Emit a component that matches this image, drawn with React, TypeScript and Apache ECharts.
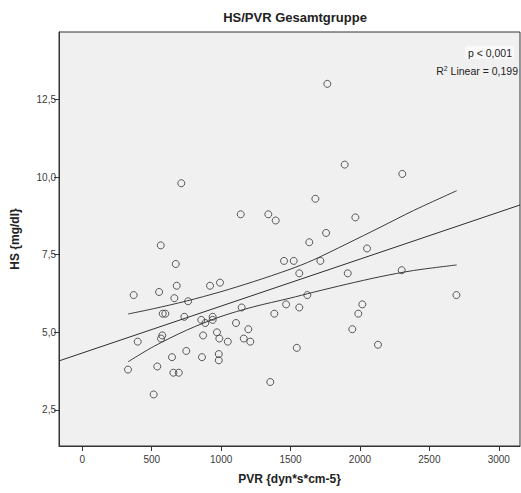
import React, { useEffect, useRef } from "react";
import * as echarts from "echarts";

const title = "HS/PVR Gesamtgruppe";
const xName = "PVR {dyn*s*cm-5}";
const yName = "HS {mg/dl}";
const xTicks = [0, 500, 1000, 1500, 2000, 2500, 3000];
const yTicks = [2.5, 5.0, 7.5, 10.0, 12.5];

const pvr = [
  713, 1141, 1340, 1393, 1765, 1890, 2305, 1679, 1967, 1756, 1635, 565, 673, 1453,
  680, 920, 992, 370, 553, 663, 762, 579, 598, 735, 857, 886, 939, 939, 1148, 1468,
  1383, 1107, 1196, 576, 567, 399, 870, 970, 987, 1048, 1163, 1210, 749, 646, 862,
  983, 983, 329, 540, 656, 695, 1354, 514, 2051, 1523, 1715, 1563, 1912, 2301, 1621,
  1563, 2017, 1988, 2695, 1945, 1545, 2130,
];
const hs = [
  9.8, 8.8, 8.8, 8.6, 13.0, 10.4, 10.1, 9.3, 8.7, 8.2, 7.9, 7.8, 7.2, 7.3,
  6.5, 6.5, 6.6, 6.2, 6.3, 6.1, 6.0, 5.6, 5.6, 5.5, 5.4, 5.3, 5.5, 5.4, 5.8, 5.9,
  5.6, 5.3, 5.1, 4.9, 4.8, 4.7, 4.9, 5.0, 4.8, 4.7, 4.8, 4.7, 4.4, 4.2, 4.2,
  4.3, 4.1, 3.8, 3.9, 3.7, 3.7, 3.4, 3.0, 7.7, 7.3, 7.3, 6.9, 6.9, 7.0, 6.2,
  5.8, 5.9, 5.6, 6.2, 5.1, 4.5, 4.6,
];

const fitX = [-168, 3153];
const fitY = [4.08, 9.1];

const bandX = [329, 512, 752, 992, 1232, 1496, 1664, 1905, 2145, 2385, 2697];
const upperY = [5.59, 5.76, 6.01, 6.3, 6.63, 7.03, 7.33, 7.85, 8.38, 8.92, 9.56];
const lowerY = [4.05, 4.54, 5.07, 5.5, 5.82, 6.1, 6.29, 6.55, 6.79, 6.99, 7.17];

const X_MIN = -168;
const X_MAX = 3153;
const Y_MIN = 1.34;
const Y_MAX = 14.67;

const FONT = "'Liberation Sans', 'DejaVu Sans', sans-serif";
const INK = "#3a3a3a";

export default function App() {
  const ref = useRef<HTMLDivElement>(null);
  useEffect(() => {
    if (!ref.current) return;
    const chart = echarts.init(ref.current, null, { renderer: "svg" });
    const zip = (a: number[], b: number[]) => a.map((v, i) => [v, b[i]]);
    chart.setOption({
      animation: false,
      backgroundColor: "#ffffff",
      title: {
        text: title,
        left: 290,
        textAlign: "center",
        top: 6,
        textStyle: { fontFamily: FONT, fontSize: 13, fontWeight: "bold", color: "#222" },
      },
      grid: {
        left: 59,
        top: 32,
        right: 1,
        bottom: 47,
        show: true,
        backgroundColor: "#f0f0f0",
        borderColor: "#333",
        borderWidth: 1,
      },
      xAxis: {
        type: "value",
        min: X_MIN,
        max: X_MAX,
        name: xName,
        nameLocation: "middle",
        nameGap: 27,
        nameTextStyle: { fontFamily: FONT, fontSize: 12, fontWeight: "bold", color: "#222" },
        splitLine: { show: false },
        axisLine: { show: true, onZero: false, lineStyle: { color: "#333" } },
        axisTick: { show: true, length: 5, customValues: xTicks, lineStyle: { color: "#333" } },
        axisLabel: {
          customValues: xTicks,
          fontFamily: FONT,
          fontSize: 10,
          color: INK,
          margin: 8,
          formatter: (v: number) => String(v),
        },
      },
      yAxis: {
        type: "value",
        min: Y_MIN,
        max: Y_MAX,
        name: yName,
        nameLocation: "middle",
        nameGap: 38,
        nameRotate: 90,
        nameTextStyle: { fontFamily: FONT, fontSize: 12, fontWeight: "bold", color: "#222" },
        splitLine: { show: false },
        axisLine: { show: true, onZero: false, lineStyle: { color: "#333" } },
        axisTick: { show: true, length: 5, customValues: yTicks, lineStyle: { color: "#333" } },
        axisLabel: {
          customValues: yTicks,
          fontFamily: FONT,
          fontSize: 10,
          color: INK,
          margin: 3,
          formatter: (v: number) => v.toFixed(1).replace(".", ","),
        },
      },
      graphic: [
        {
          type: "text",
          right: 7,
          top: 46,
          style: {
            text: "p < 0,001",
            fontFamily: FONT,
            fontSize: 10.5,
            fill: "#222",
            backgroundColor: "#f9f9f9",
            padding: [1, 2, 1, 3],
          },
        },
        {
          type: "text",
          right: 3,
          top: 65,
          style: {
            text: "R{s|2} Linear = 0,199",
            fontFamily: FONT,
            fontSize: 10.5,
            fill: "#222",
            rich: { s: { fontSize: 7, verticalAlign: "top", fontFamily: FONT, padding: [0, 0, 5, 0] } },
          },
        },
      ],
      series: [
        {
          type: "line",
          data: zip(fitX, fitY),
          showSymbol: false,
          lineStyle: { color: "#2e2e2e", width: 1 },
          silent: true,
        },
        {
          type: "line",
          data: zip(bandX, upperY),
          smooth: 0.3,
          showSymbol: false,
          lineStyle: { color: "#3a3a3a", width: 1 },
          silent: true,
        },
        {
          type: "line",
          data: zip(bandX, lowerY),
          smooth: 0.3,
          showSymbol: false,
          lineStyle: { color: "#3a3a3a", width: 1 },
          silent: true,
        },
        {
          type: "scatter",
          data: zip(pvr, hs),
          symbol: "circle",
          symbolSize: 7,
          itemStyle: { color: "rgba(0,0,0,0)", borderColor: "#333", borderWidth: 1 },
        },
      ],
    });
    return () => chart.dispose();
  }, []);
  return (
    <div
      ref={ref}
      style={{ position: "fixed", left: 0, top: 0, width: 521, height: 493 }}
    />
  );
}
